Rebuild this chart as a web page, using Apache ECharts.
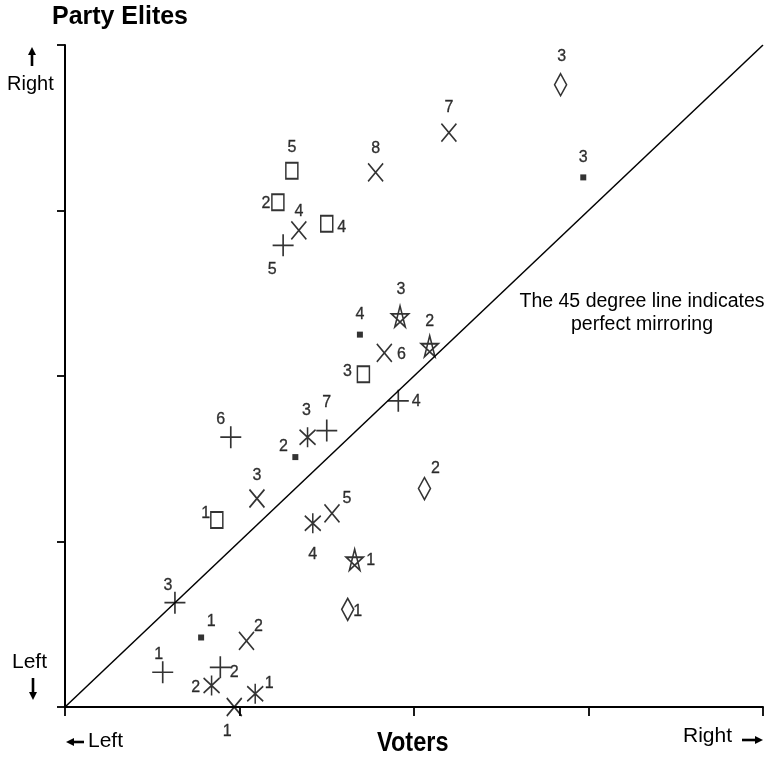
<!DOCTYPE html>
<html>
<head>
<meta charset="utf-8">
<script src="https://cdn.jsdelivr.net/npm/echarts@6/dist/echarts.min.js"></script>
<style>
  html, body { margin: 0; padding: 0; background: #fff; }
  #chart { width: 772px; height: 761px; }
</style>
</head>
<body>
<div id="chart"></div>
<script>
// values, axes run 0..4 (left -> right)
const plusX = [1.25, 0.95, 1.50, 1.91, 0.63, 0.56, 0.89];
const plusY = [2.79, 1.63, 1.67, 1.85, 0.63, 0.21, 0.24];
const plusLabels = ["5", "6", "7", "4", "3", "1", "2"];

const crossX = [2.20, 1.78, 1.34, 1.83, 1.10, 1.53, 1.04, 0.97];
const crossY = [3.47, 3.23, 2.88, 2.14, 1.26, 1.17, 0.40, 0.00];
const crossLabels = ["7", "8", "4", "6", "3", "5", "2", "1"];

const squareX = [1.30, 1.22, 1.50, 1.71, 0.87];
const squareY = [3.24, 3.05, 2.92, 2.01, 1.13];
const squareLabels = ["5", "2", "4", "3", "1"];

const diamondX = [2.84, 2.06, 1.62];
const diamondY = [3.76, 1.32, 0.59];
const diamondLabels = ["3", "2", "1"];

const dotX = [2.97, 1.69, 1.32, 0.78];
const dotY = [3.20, 2.25, 1.51, 0.42];
const dotLabels = ["3", "4", "2", "1"];

const asteriskX = [1.39, 1.42, 0.84, 1.09];
const asteriskY = [1.63, 1.11, 0.13, 0.08];
const asteriskLabels = ["3", "4", "2", "1"];

const starX = [1.92, 2.09, 1.66];
const starY = [2.36, 2.18, 0.89];
const starLabels = ["3", "2", "1"];

const mirrorLine = [[0, 0], [4, 4]];

// where each number sits relative to its marker (pixels)
const plusOffsets = [[-11, 24], [-10, -18], [0, -28], [18, 1], [-7, -17], [-4, -18], [14, 5]];
const crossOffsets = [[0, -25], [0, -24], [0, -19], [17, 2], [0, -23], [15, -15], [12, -14], [-7, 25]];
const squareOffsets = [[0, -23], [-12, 1], [15, 4], [-16, -3], [-11, -6]];
const diamondOffsets = [[1, -28], [11, -20], [10, 2]];
const dotOffsets = [[0, -20], [0, -20], [-12, -11], [10, -16]];
const asteriskOffsets = [[-1, -27], [0, 31], [-16, 2], [14, -10]];
const starOffsets = [[1, -27], [0, -25], [16, 1]];

const FONT = '"Liberation Sans", Arial, sans-serif';

function makeData(xs, ys, labels, offsets) {
  return xs.map(function (x, i) {
    return {
      name: labels[i],
      value: [x, ys[i]],
      label: { offset: offsets[i] },
    };
  });
}

function pointSeries(name, symbol, size, xs, ys, labels, offsets, style) {
  return {
    name: name,
    type: "scatter",
    clip: false,
    symbol: symbol,
    symbolSize: size,
    symbolKeepAspect: false,
    itemStyle: style,
    label: {
      show: true,
      position: "inside",
      formatter: "{b}",
      color: "#000",
      textBorderColor: "#000",
      textBorderWidth: 0.3,
      fontSize: 16,
      fontFamily: FONT,
    },
    emphasis: { disabled: true },
    data: makeData(xs, ys, labels, offsets),
    z: 3,
  };
}

// little filled arrows next to Left / Right
function arrow(x1, y1, x2, y2) {
  var dx = x2 - x1, dy = y2 - y1;
  var len = Math.sqrt(dx * dx + dy * dy);
  var ux = dx / len, uy = dy / len;
  var bx = x2 - ux * 8, by = y2 - uy * 8;
  return {
    type: "group",
    children: [
      { type: "line", shape: { x1: x1, y1: y1, x2: bx + ux, y2: by + uy }, style: { stroke: "#000", lineWidth: 2.6 } },
      {
        type: "polygon",
        shape: { points: [[x2, y2], [bx - uy * 4, by + ux * 4], [bx + uy * 4, by - ux * 4]] },
        style: { fill: "#000" },
      },
    ],
  };
}

const lineStroke = { color: "none", borderColor: "#000", borderWidth: 1.7 };
const openStroke = { color: "#fff", borderColor: "#000", borderWidth: 1.7 };

var chart = echarts.init(document.getElementById("chart"));

let option = {
  animation: false,
  backgroundColor: "#fff",
  grid: { left: 65, right: 9, top: 45, bottom: 54 },
  xAxis: {
    type: "value",
    min: 0,
    max: 4,
    interval: 1,
    axisLine: { show: true, lineStyle: { color: "#000", width: 2 } },
    axisTick: { show: true, length: 9, lineStyle: { color: "#000", width: 1.8 } },
    axisLabel: { show: false },
    splitLine: { show: false },
  },
  yAxis: {
    type: "value",
    min: 0,
    max: 4,
    interval: 1,
    axisLine: { show: true, lineStyle: { color: "#000", width: 2 } },
    axisTick: { show: true, length: 8, lineStyle: { color: "#000", width: 1.8 } },
    axisLabel: { show: false },
    splitLine: { show: false },
  },
  graphic: [
    { type: "text", x: 52, y: 4, scaleX: 0.96, style: { text: "Party Elites", font: "bold 26px " + FONT, fill: "#000" } },
    arrow(32, 66, 32, 47),
    { type: "text", left: 7, top: 74, style: { text: "Right", font: "20px " + FONT, fill: "#000" } },
    { type: "text", left: 12, top: 652, style: { text: "Left", font: "21px " + FONT, fill: "#000" } },
    arrow(33, 678, 33, 700),
    arrow(84, 742, 66, 742),
    { type: "text", left: 88, top: 731, style: { text: "Left", font: "21px " + FONT, fill: "#000" } },
    { type: "text", left: 683, top: 726, style: { text: "Right", font: "21px " + FONT, fill: "#000" } },
    arrow(742, 740, 763, 740),
    { type: "text", x: 377, y: 729, scaleX: 0.84, style: { text: "Voters", font: "bold 28px " + FONT, fill: "#000" } },
    {
      type: "text",
      x: 642,
      y: 290,
      style: {
        text: "The 45 degree line indicates\nperfect mirroring",
        font: "19.5px " + FONT,
        fill: "#000",
        align: "center",
        lineHeight: 23,
      },
    },
  ],
  series: [
    {
      type: "line",
      data: mirrorLine,
      symbol: "none",
      silent: true,
      lineStyle: { color: "#000", width: 1.5 },
      z: 1,
    },
    pointSeries("plus", "path://M0,10L20,10M10,0L10,20", [21, 22],
      plusX, plusY, plusLabels, plusOffsets, lineStroke),
    pointSeries("cross", "path://M0,0L10,10M10,0L0,10", [15, 18],
      crossX, crossY, crossLabels, crossOffsets, lineStroke),
    pointSeries("square", "rect", [12, 16],
      squareX, squareY, squareLabels, squareOffsets, openStroke),
    pointSeries("diamond", "diamond", [12, 22],
      diamondX, diamondY, diamondLabels, diamondOffsets, openStroke),
    pointSeries("dot", "rect", [6, 6],
      dotX, dotY, dotLabels, dotOffsets, { color: "#000" }),
    pointSeries("asterisk", "path://M5,0L5,12M0,1.5L10,10.5M10,1.5L0,10.5", [16, 20],
      asteriskX, asteriskY, asteriskLabels, asteriskOffsets, lineStroke),
    pointSeries("star",
      "path://M50,0L79.4,90.5L2.4,34.5L97.6,34.5L20.6,90.5Z", [17, 21],
      starX, starY, starLabels, starOffsets, lineStroke),
  ],
};

chart.setOption(option);
</script>
</body>
</html>
